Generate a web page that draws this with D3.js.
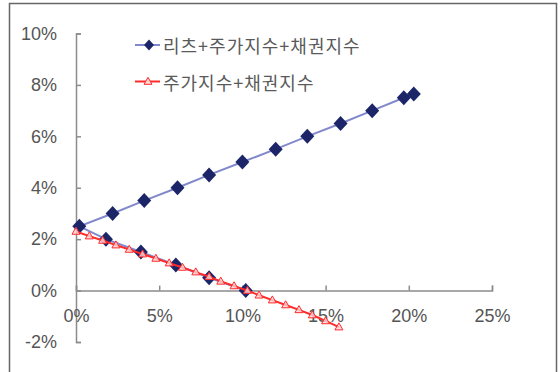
<!DOCTYPE html>
<html>
<head>
<meta charset="utf-8">
<script src="https://cdn.jsdelivr.net/npm/d3@7"></script>
<style>
  html, body { margin: 0; padding: 0; background: #fff; }
  svg { display: block; }
</style>
</head>
<body>
<svg id="chart" width="560" height="372"></svg>
<script>
// Risk (x, %) vs. expected return (y, %) for two portfolio mixes
const seriesNames = ["리츠+주가지수+채권지수", "주가지수+채권지수"];

// With REITs: lower branch first, then the upper branch from the vertex
const reitRisk   = [10.2, 8.0, 6.0, 3.9, 1.8, 0.2, 2.2, 4.1, 6.1, 8.0, 10.0, 12.0, 13.9, 15.9, 17.8, 19.7, 20.3];
const reitReturn = [0.0, 0.5, 1.0, 1.5, 2.0, 2.5, 3.0, 3.5, 4.0, 4.5, 5.0, 5.5, 6.0, 6.5, 7.0, 7.5, 7.65];

// Stocks + bonds only
const sbRisk   = [0.0, 0.8, 1.6, 2.4, 3.2, 4.0, 4.8, 5.6, 6.4, 7.2, 8.0, 8.7, 9.5, 10.3, 11.0, 11.8, 12.6, 13.4, 14.2, 15.0, 15.8];
const sbReturn = [2.30, 2.12, 1.95, 1.77, 1.60, 1.42, 1.25, 1.07, 0.90, 0.72, 0.54, 0.36, 0.18, 0.00, -0.18, -0.37, -0.56, -0.75, -0.95, -1.18, -1.42];

const xTicks = [0, 5, 10, 15, 20, 25];
const yTicks = [-2, 0, 2, 4, 6, 8, 10];

const svg = d3.select("#chart");

const x = d3.scaleLinear().domain([0, 25]).range([76, 492]);
const y = d3.scaleLinear().domain([-2, 10]).range([342, 33.5]);

// outer frame
svg.append("rect")
  .attr("x", 9.5).attr("y", 3.5)
  .attr("width", 547).attr("height", 380)
  .attr("fill", "none").attr("stroke", "#666").attr("stroke-width", 1.5);

const axisColor = "#8c8c8c";
const labelColor = "#555";
const fmt = d => d + "%";

const yAxis = svg.append("g")
  .attr("transform", `translate(${x(0)},0)`)
  .call(d3.axisLeft(y).tickValues(yTicks).tickFormat(fmt)
    .tickSizeInner(-5).tickSizeOuter(-5).tickPadding(19));

const xAxis = svg.append("g")
  .attr("transform", `translate(0,${y(0)})`)
  .call(d3.axisBottom(x).tickValues(xTicks).tickFormat(fmt)
    .tickSizeInner(-5).tickSizeOuter(-5).tickPadding(19));

[xAxis, yAxis].forEach(g => {
  g.selectAll("path, line").attr("stroke", axisColor).attr("stroke-width", 1.5);
  g.selectAll("text")
    .attr("fill", labelColor)
    .style("font-family", "'Liberation Sans', Arial, sans-serif")
    .style("font-size", "18px");
});

const line = d3.line().x(d => x(d[0])).y(d => y(d[1]));

const reitPts = reitRisk.map((r, i) => [r, reitReturn[i]]);
const sbPts = sbRisk.map((r, i) => [r, sbReturn[i]]);

const blueLine = "#8189cc";
const blueMark = "#1b2568";
const redLine = "#ff2a2a";
const redFill = "#ffd6d6";

function diamond(cx, cy, w, h) {
  return `M${cx},${cy - h}L${cx + w},${cy}L${cx},${cy + h}L${cx - w},${cy}Z`;
}
function triangle(cx, cy, w, h) {
  return `M${cx},${cy - h * 0.6}L${cx + w},${cy + h * 0.4}L${cx - w},${cy + h * 0.4}Z`;
}

// REIT portfolio
svg.append("path")
  .datum(reitPts)
  .attr("d", line)
  .attr("fill", "none").attr("stroke", blueLine).attr("stroke-width", 2);

svg.append("g").selectAll("path")
  .data(reitPts).join("path")
  .attr("d", d => diamond(x(d[0]), y(d[1]), 7, 7.5))
  .attr("fill", blueMark);

// stocks + bonds portfolio, drawn on top
svg.append("path")
  .datum(sbPts)
  .attr("d", line)
  .attr("fill", "none").attr("stroke", redLine).attr("stroke-width", 2);

svg.append("g").selectAll("path")
  .data(sbPts).join("path")
  .attr("d", d => triangle(x(d[0]), y(d[1]), 4, 7))
  .attr("fill", redFill).attr("fill-opacity", 0.8)
  .attr("stroke", redLine).attr("stroke-width", 1);

// legend
const legend = svg.append("g");
const legendRows = [
  { name: seriesNames[0], y: 45, color: blueLine, kind: "diamond" },
  { name: seriesNames[1], y: 81.5, color: redLine, kind: "triangle" }
];
legendRows.forEach(r => {
  legend.append("line")
    .attr("x1", 135).attr("x2", 160).attr("y1", r.y).attr("y2", r.y)
    .attr("stroke", r.color).attr("stroke-width", 2);
  if (r.kind === "diamond") {
    legend.append("path").attr("d", diamond(149, r.y, 5, 5.5)).attr("fill", blueMark);
  } else {
    legend.append("path").attr("d", triangle(148, r.y, 4, 7))
      .attr("fill", redFill).attr("stroke", redLine).attr("stroke-width", 1);
  }
  legend.append("text")
    .attr("x", 163).attr("y", r.y)
    .attr("dominant-baseline", "central")
    .attr("fill", "#5a5a5a")
    .style("font-family", "'Noto Sans CJK KR', sans-serif")
    .style("font-size", "18px")
    .style("letter-spacing", "1px")
    .text(r.name);
});
</script>
</body>
</html>
